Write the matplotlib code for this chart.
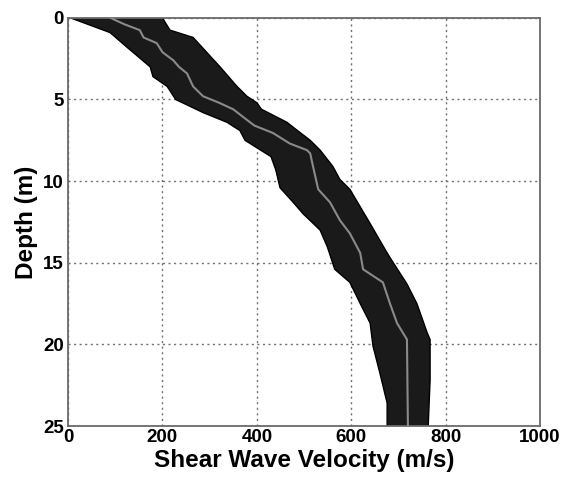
import matplotlib
matplotlib.use('Agg')
import matplotlib.pyplot as plt
import numpy as np

# Median profile (depth [m], velocity [m/s])
depth_med = [0, 0.4, 0.75, 1.2, 1.55, 2.1, 2.6, 3.0, 3.4, 4.2, 4.8, 5.2, 5.6, 6.25, 6.6,
             7.05, 7.7, 8.1, 8.3, 9.1, 10.5, 11.3, 12.4, 13.2, 14.4, 15.4, 16.2,
             17.5, 18.7, 19.7, 25]
vs_med = [90, 120, 152, 160, 188, 200, 223, 235, 252, 265, 286, 320, 350, 379, 395,
          434, 470, 506, 513, 519, 530, 555, 576, 597, 619, 625, 667,
          682, 697, 718, 720]

# Lower envelope of the realizations
depth_lo = [0, 0.9, 1.8, 3.0, 3.6, 4.2, 5.0, 5.8, 6.4, 6.9, 7.5, 8.5, 9.3, 10.4,
            11.3, 12.0, 13.0, 14.0, 15.4, 16.2, 17.5, 18.7, 20.1, 21.8, 23.6, 25]
vs_lo = [5, 89, 125, 174, 180, 210, 228, 286, 337, 364, 375, 430, 440, 449,
         477, 498, 534, 549, 565, 597, 619, 640, 646, 661, 676, 676]

# Upper envelope of the realizations
depth_hi = [0, 0.75, 1.2, 3.0, 4.2, 4.8, 5.2, 5.6, 6.4, 6.7, 7.5, 8.1, 9.1, 9.9,
            10.5, 12.6, 14.4, 15.0, 16.3, 17.5, 19.3, 19.7, 22.2, 25]
vs_hi = [200, 216, 265, 322, 358, 379, 400, 410, 464, 477, 513, 534, 561, 576,
         597, 640, 676, 689, 718, 739, 761, 767, 767, 763]

xticks = [0, 200, 400, 600, 800, 1000]
yticks = [0, 5, 10, 15, 20, 25]

plt.rcParams['font.family'] = ['Liberation Sans', 'DejaVu Sans']
plt.rcParams['font.weight'] = 'bold'

fig = plt.figure(figsize=(5.64, 4.83), dpi=100)
ax = fig.add_axes([0.1206, 0.118, 0.837, 0.845])

# band of realizations
band_x = np.concatenate([vs_hi, vs_lo[::-1]])
band_y = np.concatenate([depth_hi, depth_lo[::-1]])
ax.fill(band_x, band_y, color='#1a1a1a', lw=0, zorder=2)
ax.plot(vs_lo, depth_lo, color='black', lw=1.0, zorder=2)
ax.plot(vs_hi, depth_hi, color='black', lw=1.0, zorder=2)

# median
ax.plot(vs_med, depth_med, color='#8a8a8a', lw=1.5, zorder=3)

ax.set_xlim(0, 1000)
ax.set_ylim(25, 0)
ax.set_xticks(xticks)
ax.set_yticks(yticks)
ax.tick_params(direction='in', length=0, labelsize=13.5, pad=2)
ax.tick_params(axis='y', pad=3)

ax.grid(True, linestyle=(0, (1.5, 2.5)), color='#707070', lw=1.0, zorder=1)
ax.set_axisbelow(True)
for s in ax.spines.values():
    s.set_color('#6a6a6a')
    s.set_linewidth(1.3)

ax.set_xlabel('Shear Wave Velocity (m/s)', fontsize=17.5, fontweight='bold', labelpad=2)
ax.set_ylabel('Depth (m)', fontsize=17.5, fontweight='bold', labelpad=4)

fig.savefig('out.png', dpi=100)
